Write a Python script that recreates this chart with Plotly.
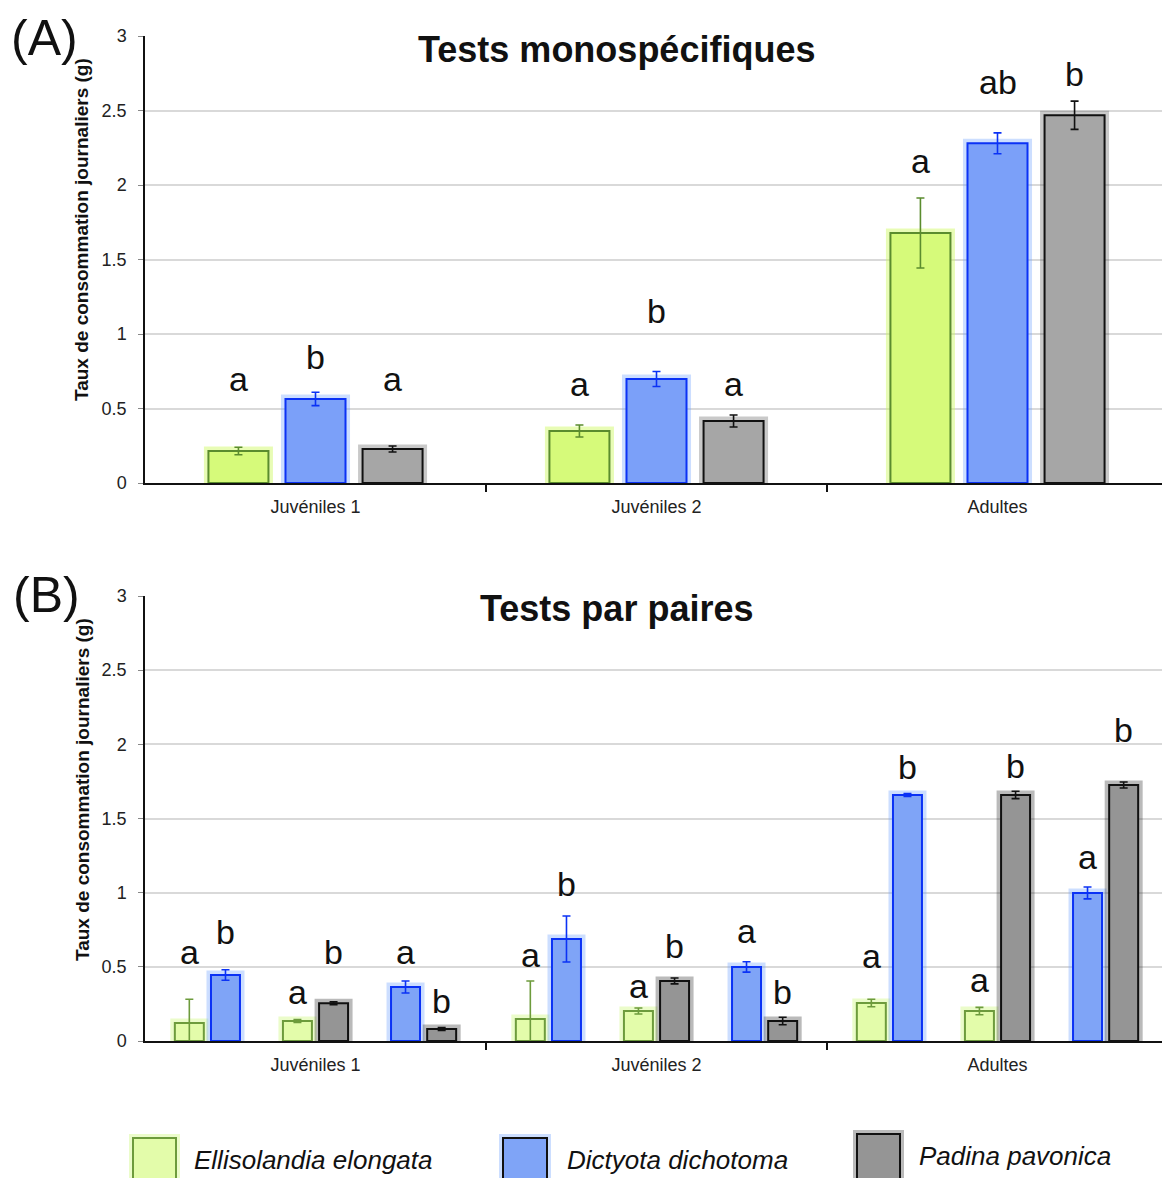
import plotly.graph_objects as go

FONT = "Liberation Sans, Arial, sans-serif"
W, H = 1162, 1178

groups = ["Juvéniles 1", "Juvéniles 2", "Adultes"]
species = ["Ellisolandia elongata", "Dictyota dichotoma", "Padina pavonica"]

# ---------- Panel A : tests monospécifiques ----------
mono_E = [0.215, 0.349, 1.678]
mono_E_err = [0.025, 0.040, 0.235]
mono_E_letters = ["a", "a", "a"]
mono_E_letter_y = [0.624, 0.590, 2.090]

mono_D = [0.564, 0.698, 2.280]
mono_D_err = [0.045, 0.050, 0.070]
mono_D_letters = ["b", "b", "ab"]
mono_D_letter_y = [0.772, 1.083, 2.615]

mono_P = [0.228, 0.416, 2.468]
mono_P_err = [0.020, 0.040, 0.095]
mono_P_letters = ["a", "a", "b"]
mono_P_letter_y = [0.624, 0.590, 2.670]

# ---------- Panel B : tests par paires ----------
pairED_E = [0.121, 0.148, 0.256]
pairED_E_err = [0.160, 0.257, 0.025]
pairED_E_letters = ["a", "a", "a"]
pairED_E_letter_y = [0.524, 0.506, 0.501]

pairED_D = [0.445, 0.688, 1.659]
pairED_D_err = [0.035, 0.155, 0.010]
pairED_D_letters = ["b", "b", "b"]
pairED_D_letter_y = [0.663, 0.985, 1.771]

pairEP_E = [0.135, 0.202, 0.202]
pairEP_E_err = [0.010, 0.020, 0.025]
pairEP_E_letters = ["a", "a", "a"]
pairEP_E_letter_y = [0.258, 0.299, 0.337]

pairEP_P = [0.254, 0.405, 1.659]
pairEP_P_err = [0.010, 0.020, 0.025]
pairEP_P_letters = ["b", "b", "b"]
pairEP_P_letter_y = [0.524, 0.564, 1.782]

pairDP_D = [0.364, 0.499, 0.998]
pairDP_D_err = [0.040, 0.035, 0.040]
pairDP_D_letters = ["a", "a", "a"]
pairDP_D_letter_y = [0.524, 0.670, 1.164]

pairDP_P = [0.081, 0.135, 1.726]
pairDP_P_err = [0.010, 0.025, 0.020]
pairDP_P_letters = ["b", "b", "b"]
pairDP_P_letter_y = [0.198, 0.254, 2.025]

yticks = [0, 0.5, 1, 1.5, 2, 2.5, 3]
ytick_text = ["0", "0.5", "1", "1.5", "2", "2.5", "3"]

# ---------- styles ----------
STYLE_A = {
    0: dict(fill="#d6fa7a", line="#5b8c2e", glow="rgba(205,248,90,0.45)", err="#5b8c2e"),
    1: dict(fill="#7ba0f9", line="#0b32f5", glow="rgba(110,160,255,0.35)", err="#0b32f5"),
    2: dict(fill="#a6a6a6", line="#111111", glow="rgba(60,60,60,0.28)", err="#111111"),
}
STYLE_B = {
    0: dict(fill="#e3fcaa", line="#6d9b3c", glow="rgba(215,250,150,0.5)", err="#6d9b3c"),
    1: dict(fill="#7fa4f7", line="#0b32f5", glow="rgba(110,160,255,0.35)", err="#0b32f5"),
    2: dict(fill="#959595", line="#111111", glow="rgba(40,40,40,0.32)", err="#111111"),
}

fig = go.Figure()
annotations = []


def add_bars(values, errs, letters, letter_y, sp, offset, width, style, xa, ya):
    xs = [i + offset for i in range(len(groups))]
    st = style[sp]
    # soft halo behind the bar
    fig.add_trace(go.Bar(
        x=xs, y=values, width=width, xaxis=xa, yaxis=ya,
        marker=dict(color="rgba(0,0,0,0)", line=dict(color=st["glow"], width=9)),
        showlegend=False, hoverinfo="skip"))
    fig.add_trace(go.Bar(
        x=xs, y=values, width=width, xaxis=xa, yaxis=ya, name=species[sp],
        marker=dict(color=st["fill"], line=dict(color=st["line"], width=2)),
        error_y=dict(type="data", array=errs, visible=True, color=st["err"],
                     thickness=1.6, width=4),
        showlegend=False))
    for x, lab, ly in zip(xs, letters, letter_y):
        annotations.append(dict(
            x=x, y=ly, xref=xa, yref=ya, text=lab, showarrow=False,
            xanchor="center", yanchor="bottom", yshift=-10,
            font=dict(family=FONT, size=34, color="#111")))


# Panel A
wA = 0.176
sA = 0.226
add_bars(mono_E, mono_E_err, mono_E_letters, mono_E_letter_y, 0, -sA, wA, STYLE_A, "x", "y")
add_bars(mono_D, mono_D_err, mono_D_letters, mono_D_letter_y, 1, 0.0, wA, STYLE_A, "x", "y")
add_bars(mono_P, mono_P_err, mono_P_letters, mono_P_letter_y, 2, sA, wA, STYLE_A, "x", "y")

# Panel B
wB = 0.085
pair_c = 0.317
half = 0.053
add_bars(pairED_E, pairED_E_err, pairED_E_letters, pairED_E_letter_y, 0, -pair_c - half, wB, STYLE_B, "x2", "y2")
add_bars(pairED_D, pairED_D_err, pairED_D_letters, pairED_D_letter_y, 1, -pair_c + half, wB, STYLE_B, "x2", "y2")
add_bars(pairEP_E, pairEP_E_err, pairEP_E_letters, pairEP_E_letter_y, 0, -half, wB, STYLE_B, "x2", "y2")
add_bars(pairEP_P, pairEP_P_err, pairEP_P_letters, pairEP_P_letter_y, 2, half, wB, STYLE_B, "x2", "y2")
add_bars(pairDP_D, pairDP_D_err, pairDP_D_letters, pairDP_D_letter_y, 1, pair_c - half, wB, STYLE_B, "x2", "y2")
add_bars(pairDP_P, pairDP_P_err, pairDP_P_letters, pairDP_P_letter_y, 2, pair_c + half, wB, STYLE_B, "x2", "y2")

x_left = 145 / W
xrange = [-0.5, -0.5 + (W - 145) / 341.0]


def xaxis_cfg():
    return dict(
        domain=[x_left, 1], range=xrange, showgrid=False, zeroline=False,
        automargin=False,
        showline=True, linecolor="#111", linewidth=1.5,
        tickmode="array", tickvals=[0, 1, 2], ticktext=groups, ticks="",
        ticklabelstandoff=7,
        tickfont=dict(family=FONT, size=18, color="#222"),
        minor=dict(tickmode="array", tickvals=[0.5, 1.5, 2.5], ticks="outside",
                   ticklen=7, tickcolor="#111", tickwidth=1.5, showgrid=False),
        fixedrange=True)


def yaxis_cfg(dom, anchor):
    return dict(
        domain=dom, range=[0, 3], anchor=anchor, showgrid=True, gridcolor="#d9d9d9",
        automargin=False,
        gridwidth=1.5, zeroline=False, showline=True, linecolor="#111", linewidth=1.5,
        tickmode="array", tickvals=yticks, ticktext=ytick_text, ticks="outside",
        ticklen=5, tickcolor="#888", ticklabelstandoff=8,
        tickfont=dict(family=FONT, size=18, color="#222"), fixedrange=True)


fig.update_layout(
    width=W, height=H, margin=dict(l=0, r=0, t=0, b=0, autoexpand=False),
    paper_bgcolor="white", plot_bgcolor="white", barmode="overlay",
    xaxis=dict(**xaxis_cfg(), anchor="y"),
    xaxis2=dict(**xaxis_cfg(), anchor="y2"),
    yaxis=yaxis_cfg([(H - 483) / H, (H - 36) / H], "x"),
    yaxis2=yaxis_cfg([(H - 1041) / H, (H - 596) / H], "x2"),
    showlegend=False,
)

# Titles (white box over the top gridline)
annotations.append(dict(x=616 / W, xref="paper", y=3, yref="y", yshift=-14,
                        xanchor="center", yanchor="middle",
                        text="<b>Tests monospécifiques</b>", showarrow=False,
                        bgcolor="white", borderpad=5,
                        font=dict(family=FONT, size=36, color="#111")))
annotations.append(dict(x=616 / W, xref="paper", y=3, yref="y2", yshift=-12,
                        xanchor="center", yanchor="middle",
                        text="<b>Tests par paires</b>", showarrow=False,
                        bgcolor="white", borderpad=5,
                        font=dict(family=FONT, size=36, color="#111")))

# Panel letters
annotations.append(dict(x=44 / W, y=(H - 38) / H, xref="paper", yref="paper", text="(A)",
                        xanchor="center", yanchor="middle",
                        showarrow=False, font=dict(family=FONT, size=50, color="#111")))
annotations.append(dict(x=46 / W, y=(H - 595) / H, xref="paper", yref="paper", text="(B)",
                        xanchor="center", yanchor="middle",
                        showarrow=False, font=dict(family=FONT, size=50, color="#111")))

# Y-axis titles
for yc in ((H - 230) / H, (H - 790) / H):
    annotations.append(dict(x=82 / W, y=yc, xref="paper", yref="paper",
                            xanchor="center", yanchor="middle",
                            text="<b>Taux de consommation journaliers (g)</b>",
                            textangle=-90, showarrow=False,
                            font=dict(family=FONT, size=19, color="#111")))

# Custom legend
legend_items = [
    (0, 133, 176, 1138, 192, 1160),
    (1, 503, 547, 1138, 565, 1160),
    (2, 857, 900, 1134, 917, 1156),
]
shapes = []
for sp, x0, x1, top, tx, ty in legend_items:
    st = STYLE_B[sp]
    shapes.append(dict(type="rect", xref="paper", yref="paper",
                       x0=(x0 - 4) / W, x1=(x1 + 4) / W, y0=-0.05, y1=(H - top + 4) / H,
                       fillcolor=st["glow"], line=dict(width=0), layer="below"))
    shapes.append(dict(type="rect", xref="paper", yref="paper",
                       x0=x0 / W, x1=x1 / W, y0=-0.05, y1=(H - top) / H,
                       fillcolor=st["fill"],
                       line=dict(color=("#6d9b3c" if sp == 0 else "#111"), width=2)))
    annotations.append(dict(x=tx / W, y=(H - ty) / H, xref="paper", yref="paper",
                            text=f"<i>{species[sp]}</i>", showarrow=False,
                            xanchor="left", yanchor="middle",
                            font=dict(family=FONT, size=26, color="#111")))

fig.update_layout(annotations=annotations, shapes=shapes)
fig.write_html("out.html", config={"displayModeBar": False},
               post_script="document.body.style.margin='0px';")
